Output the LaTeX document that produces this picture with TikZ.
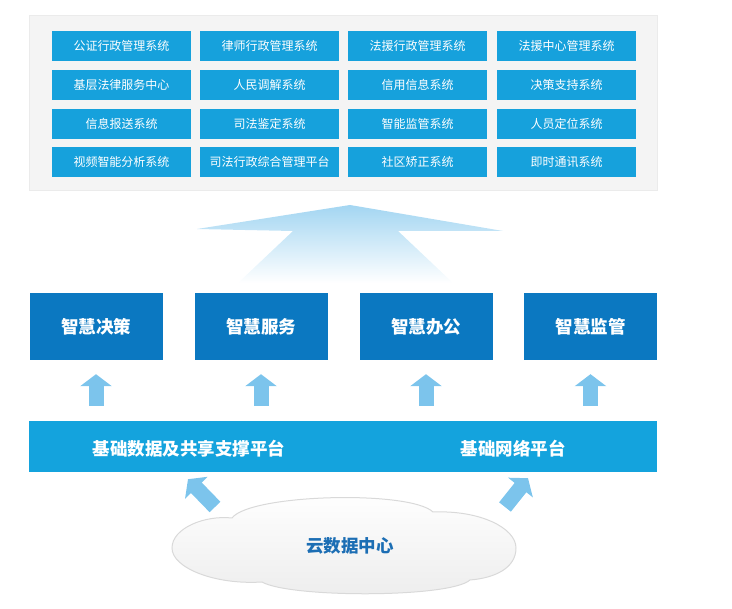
\documentclass[tikz,border=0pt]{standalone}
\usepackage{fontspec}
\setmainfont{Noto Sans CJK SC}
\usetikzlibrary{arrows.meta,calc}
\definecolor{sysblue}{RGB}{22,161,220}
\definecolor{smartblue}{RGB}{11,120,193}
\definecolor{barblue}{RGB}{20,163,221}
\definecolor{arrowblue}{RGB}{124,196,236}
\definecolor{panelgray}{RGB}{244,244,244}
\definecolor{cloudtext}{RGB}{28,110,180}

\begin{document}
\begin{tikzpicture}[x=1pt, y=-1pt,
		sys/.style={fill=sysblue, text=white, minimum width=139pt, minimum height=30pt, inner sep=0pt, font=\fontsize{12}{12}\selectfont},
		smart/.style={fill=smartblue, text=white, minimum width=133pt, minimum height=67pt, inner sep=0pt, font=\fontsize{17.5}{17.5}\selectfont\bfseries},
		bartext/.style={text=white, font=\fontsize{17.5}{17.5}\selectfont\bfseries},
		fat/.style={draw=arrowblue, line width=15pt, -{Triangle[width=31pt, length=12pt]}}]
					\useasboundingbox (0,0) rectangle (732,609);

					% application systems
					\node[fill=panelgray, draw=black!8, minimum width=628pt, minimum height=175pt] (panel) at (343,102.5) {};

					\node[sys] (s11) at (121.5,46) {公证行政管理系统};
					\node[sys] (s12) at (269.5,46) {律师行政管理系统};
					\node[sys] (s13) at (417.5,46) {法援行政管理系统};
					\node[sys] (s14) at (566.5,46) {法援中心管理系统};
					\node[sys] (s21) at (121.5,85) {基层法律服务中心};
					\node[sys] (s22) at (269.5,85) {人民调解系统};
					\node[sys] (s23) at (417.5,85) {信用信息系统};
					\node[sys] (s24) at (566.5,85) {决策支持系统};
					\node[sys] (s31) at (121.5,124) {信息报送系统};
					\node[sys] (s32) at (269.5,124) {司法鉴定系统};
					\node[sys] (s33) at (417.5,124) {智能监管系统};
					\node[sys] (s34) at (566.5,124) {人员定位系统};
					\node[sys] (s41) at (121.5,162) {视频智能分析系统};
					\node[sys] (s42) at (269.5,162) {司法行政综合管理平台};
					\node[sys] (s43) at (417.5,162) {社区矫正系统};
					\node[sys] (s44) at (566.5,162) {即时通讯系统};

					% big arrow
					\shade[top color=arrowblue!70, middle color=arrowblue!30, bottom color=white]
						(350,205) -- (503,231) -- (398,231) -- (453,283) -- (238,283) -- (293,231) -- (197,229) -- cycle;

					% smart layer
					\node[smart] (d1) at (96,326.5) {智慧决策};
					\node[smart] (d2) at (261,326.5) {智慧服务};
					\node[smart] (d3) at (426,326.5) {智慧办公};
					\node[smart] (d4) at (590.5,326.5) {智慧监管};

					% platform
					\node[fill=barblue, minimum width=628pt, minimum height=51pt, inner sep=0pt] (bar) at (343,446.5) {};
					\node[bartext] (share) at (189,449) {基础数据及共享支撑平台};
					\node[bartext] (net) at (513,449) {基础网络平台};

					\draw[fat] ($(d1.south |- bar.north)+(0,-15)$) -- ($(d1.south)+(0,14)$);
					\draw[fat] ($(d2.south |- bar.north)+(0,-15)$) -- ($(d2.south)+(0,14)$);
					\draw[fat] ($(d3.south |- bar.north)+(0,-15)$) -- ($(d3.south)+(0,14)$);
					\draw[fat] ($(d4.south |- bar.north)+(0,-15)$) -- ($(d4.south)+(0,14)$);

					% cloud
					\shade[top color=white, bottom color=black!7, draw=black!15, line width=1pt]
						(172,548) .. controls (172,528) and (205,515) .. (232,518)
						.. controls (250,494) and (410,490) .. (433,512)
						.. controls (480,510) and (516,528) .. (516,548)
						.. controls (516,568) and (495,578) .. (470,580)
						.. controls (450,598) and (290,598) .. (262,582)
						.. controls (215,585) and (172,568) .. (172,548) -- cycle;
					\node[text=cloudtext, font=\fontsize{17.5}{17.5}\selectfont\bfseries] (cloud) at (350,546) {云数据中心};

					\coordinate (cl) at (215,507);
					\coordinate (cr) at (505,507);
					\draw[fat] (cl) -- ($(bar.south)+(-155,7)$);
					\draw[fat] (cr) -- ($(bar.south)+(185,6)$);
				\end{tikzpicture}
\end{document}
